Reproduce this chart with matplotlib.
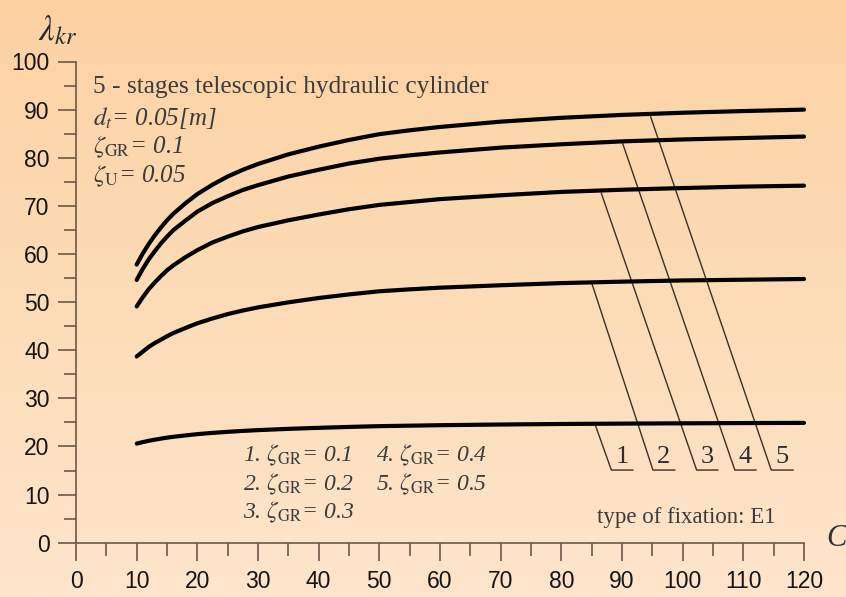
import matplotlib
matplotlib.use('Agg')
import matplotlib.pyplot as plt
import numpy as np

#данные кривых (c, lambda_kr) для zeta_GR = 0.1 ... 0.5
c_vals = [10, 11, 12, 13, 14, 15, 16, 18, 20, 22.5, 25, 27.5, 30, 35, 40, 45, 50, 55, 60, 70, 80, 90, 100, 110, 120]
lam_1 = [20.6, 20.9, 21.18, 21.41, 21.63, 21.83, 22.0, 22.29, 22.56, 22.82, 23.04, 23.23, 23.39,
         23.66, 23.87, 24.06, 24.22, 24.32, 24.42, 24.56, 24.67, 24.75, 24.81, 24.86, 24.9]
lam_2 = [38.7, 39.7, 40.7, 41.5, 42.2, 42.9, 43.55, 44.6, 45.6, 46.6, 47.5, 48.25, 48.9,
         49.95, 50.85, 51.6, 52.25, 52.65, 53.0, 53.5, 53.95, 54.25, 54.5, 54.65, 54.8]
lam_3 = [49.1, 51.0, 52.7, 54.1, 55.4, 56.6, 57.6, 59.3, 60.8, 62.4, 63.6, 64.7, 65.6,
         67.0, 68.2, 69.3, 70.2, 70.8, 71.4, 72.2, 72.9, 73.35, 73.7, 74.0, 74.2]
lam_4 = [54.6, 56.9, 58.9, 60.6, 62.2, 63.6, 64.9, 66.9, 68.8, 70.6, 72.0, 73.3, 74.3,
         76.1, 77.5, 78.8, 79.8, 80.5, 81.1, 82.1, 82.8, 83.4, 83.8, 84.1, 84.4]
lam_5 = [57.8, 60.1, 62.1, 63.9, 65.5, 67.0, 68.3, 70.5, 72.45, 74.4, 76.1, 77.5, 78.7,
         80.7, 82.3, 83.7, 84.9, 85.7, 86.4, 87.5, 88.3, 88.9, 89.35, 89.7, 90.0]
curves = [lam_1, lam_2, lam_3, lam_4, lam_5]

#выноски: начало на кривой, излом, конец подчёркивания
lead_x0 = [85.5, 85.0, 86.6, 90.1, 94.7]
lead_y0 = [24.8, 54.0, 72.6, 83.0, 88.6]
lead_x1 = [88.25, 95.1, 102.3, 108.6, 114.6]
lead_y1 = 15.1
lead_x2 = [91.8, 98.7, 105.8, 112.1, 118.2]
lead_labels = ['1', '2', '3', '4', '5']

x_ticks = list(range(0, 121, 10))
y_ticks = list(range(0, 101, 10))

legend_rows = [r'1. $\zeta_{\mathrm{GR}}$= 0.1', r'2. $\zeta_{\mathrm{GR}}$= 0.2', r'3. $\zeta_{\mathrm{GR}}$= 0.3',
               r'4. $\zeta_{\mathrm{GR}}$= 0.4', r'5. $\zeta_{\mathrm{GR}}$= 0.5']

plt.rcParams['mathtext.fontset'] = 'stix'
W, H = 846, 597
fig = plt.figure(figsize=(W/100, H/100), dpi=100)

#фон - вертикальный градиент
bg = fig.add_axes([0, 0, 1, 1])
top_c = np.array([252, 210, 163])/255
bot_c = np.array([254, 229, 203])/255
t = np.linspace(0, 1, 256)[:, None]
grad = top_c[None, :]*(1-t) + bot_c[None, :]*t
bg.imshow(grad[:, None, :], aspect='auto', extent=[0, 1, 0, 1])
bg.axis('off')

def fx(px):
    return px/W

def fy(py):
    return 1 - py/H

ax = fig.add_axes([fx(76), fy(542.7), (804-76)/W, (542.7-61.5)/H])
ax.patch.set_alpha(0)
ax.set_xlim(0, 120)
ax.set_ylim(0, 100)
for s in ['top', 'right']:
    ax.spines[s].set_visible(False)
axc = '#6b5848'
for s in ['left', 'bottom']:
    ax.spines[s].set_color(axc)
    ax.spines[s].set_linewidth(1.2)

ax.set_xticks(x_ticks)
ax.set_yticks(y_ticks)
ax.set_xticks(np.arange(5, 120, 10), minor=True)
ax.set_yticks(np.arange(5, 100, 10), minor=True)
ax.tick_params(which='major', direction='out', length=13, width=1.2, color=axc, labelsize=16.5, labelcolor='#151515')
ax.tick_params(which='minor', direction='out', length=9, width=1.2, color=axc)
ax.tick_params(axis='x', which='major', pad=7)
ax.tick_params(axis='y', which='major', pad=6)
for lab in ax.get_xticklabels() + ax.get_yticklabels():
    lab.set_family('Liberation Sans')

#кривые
for lam in curves:
    ax.plot(c_vals, lam, color='black', lw=3.0, solid_capstyle='round', solid_joinstyle='round',
            clip_on=False, zorder=3)

#выноски с номерами
for i in range(5):
    ax.plot([lead_x0[i], lead_x1[i], lead_x2[i]], [lead_y0[i], lead_y1, lead_y1],
            color='#3a3028', lw=1.0, zorder=2)
    ax.text((lead_x1[i]+lead_x2[i])/2, lead_y1+0.5, lead_labels[i], ha='center', va='bottom',
            fontsize=19, family='Liberation Serif', color='#2e2e2e')

tc = '#3c3c3c'
fig.text(fx(92.7), fy(93), '5 - stages telescopic hydraulic cylinder', fontsize=18.3,
         family='Liberation Serif', color=tc, va='baseline')
fig.text(fx(93), fy(125), r'$d_t$= 0.05[m]', fontsize=18, family='Liberation Serif',
         style='italic', color=tc, va='baseline')
fig.text(fx(93), fy(153), r'$\zeta_{\mathrm{GR}}$= 0.1', fontsize=18, family='Liberation Serif',
         style='italic', color=tc, va='baseline')
fig.text(fx(93), fy(182), r'$\zeta_{\mathrm{U}}$= 0.05', fontsize=18, family='Liberation Serif',
         style='italic', color=tc, va='baseline')

#легенда внизу
row_y = [461.7, 490.7, 518]
for k, txt in enumerate(legend_rows):
    col_x = 243 if k < 3 else 376
    fig.text(fx(col_x), fy(row_y[k % 3]), txt, fontsize=17, family='Liberation Serif',
             style='italic', color=tc, va='baseline')

fig.text(fx(597), fy(523), 'type of fixation: E1', fontsize=16.5, family='Liberation Serif',
         color=tc, va='baseline')

#подписи осей
fig.text(fx(38), fy(40), r'$\lambda_{kr}$', fontsize=25, color='#2a2a2a', va='baseline')
fig.text(fx(826), fy(546), 'C', fontsize=22, family='Liberation Serif', style='italic',
         color='#333333', va='baseline')

#обрезанная формула сверху
fig.text(fx(806), fy(-7), r'$\lambda_{kr} = f\,(c,\ \zeta)_{n}$', fontsize=24, color='#222222',
         ha='right', va='baseline')

fig.savefig('out.png', dpi=100)
